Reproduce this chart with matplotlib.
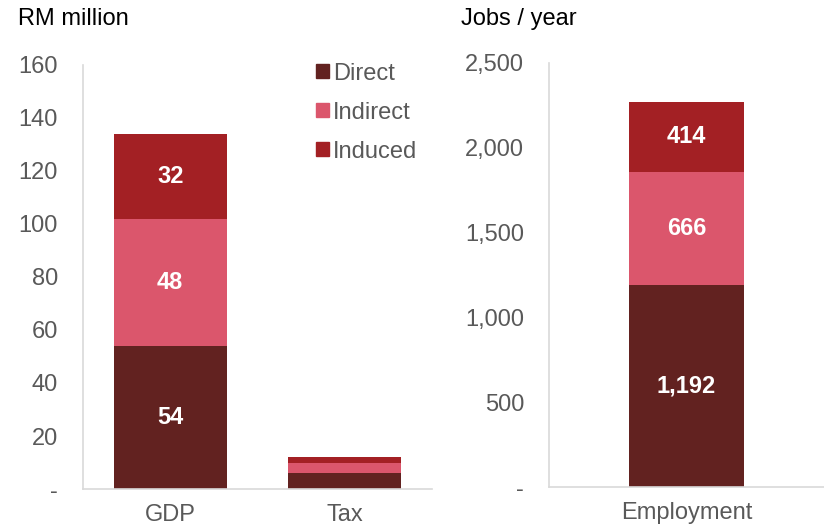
import matplotlib.pyplot as plt
from matplotlib.patches import Patch
from matplotlib.ticker import FuncFormatter
import numpy as np

plt.rcParams['font.family'] = ['Liberation Sans', 'DejaVu Sans']

# economic impact by component
series = ['Direct', 'Indirect', 'Induced']
colors = ['#622220', '#DB566C', '#A32024']

left_cats = ['GDP', 'Tax']
left_direct = [54, 6.2]
left_indirect = [48, 3.5]
left_induced = [32, 2.4]

right_cats = ['Employment']
right_direct = [1192]
right_indirect = [666]
right_induced = [414]

grey = '#595959'
spine = '#D9D9D9'
fs = 17


def fmt(v, pos):
    if v == 0:
        return '-'
    return f"{v:,.0f}"


def style(ax, ymax, step):
    for s in ['top', 'right']:
        ax.spines[s].set_visible(False)
    for s in ['left', 'bottom']:
        ax.spines[s].set_color(spine)
        ax.spines[s].set_linewidth(1.2)
    ax.set_ylim(0, ymax)
    ax.set_yticks(np.arange(0, ymax + 1, step))
    ax.yaxis.set_major_formatter(FuncFormatter(fmt))
    ax.tick_params(axis='y', length=0, pad=18, labelsize=fs, labelcolor=grey)
    ax.tick_params(axis='x', length=0, pad=11, labelsize=fs, labelcolor=grey)


def stack(ax, cats, parts, width, labels):
    x = np.arange(len(cats))
    bottom = np.zeros(len(cats))
    for vals, c in zip(parts, colors):
        vals = np.array(vals, dtype=float)
        ax.bar(x, vals, width, bottom=bottom, color=c)
        if labels:
            for xi, b, v in zip(x, bottom, vals):
                if v >= 20:
                    ax.text(xi, b + v / 2, f"{v:,.0f}", ha='center', va='center',
                            color='white', fontsize=fs, fontweight='bold')
        bottom += vals
    ax.set_xticks(x)
    ax.set_xticklabels(cats)


fig = plt.figure(figsize=(8.24, 5.27), dpi=100)

ax1 = fig.add_axes([0.1007, 0.0721, 0.4235, 0.8046])
stack(ax1, left_cats, [left_direct, left_indirect, left_induced], 0.65, True)
ax1.set_xlim(-0.5, 1.5)
style(ax1, 160, 20)

handles = [Patch(color=c) for c in colors]
ax1.legend(handles, series, loc='upper right', bbox_to_anchor=(0.986, 1.028),
           frameon=False, fontsize=fs, labelcolor=grey, handlelength=0.55,
           handleheight=0.55, handletextpad=0.2, labelspacing=0.72,
           borderaxespad=0.0)

ax2 = fig.add_axes([0.6663, 0.0759, 0.3337, 0.8046])
stack(ax2, right_cats, [right_direct, right_indirect, right_induced], 0.415, True)
ax2.set_xlim(-0.5, 0.5)
style(ax2, 2500, 500)

fig.text(18 / 824, 1 - 19 / 527, 'RM million', fontsize=fs, va='center', ha='left')
fig.text(461 / 824, 1 - 19 / 527, 'Jobs / year', fontsize=fs, va='center', ha='left')

fig.savefig('out.png', dpi=100)
